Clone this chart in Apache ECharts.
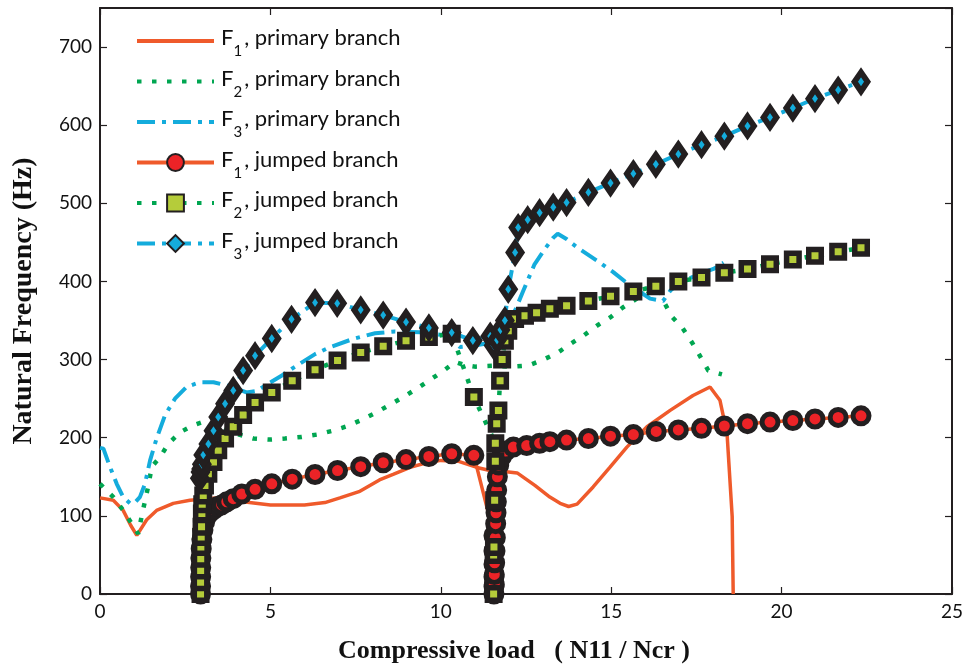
<!DOCTYPE html>
<html>
<head>
<meta charset="utf-8">
<script src="https://cdn.jsdelivr.net/npm/echarts@6/dist/echarts.min.js"></script>
<style>
  html, body { margin: 0; padding: 0; background: #fff; }
  #chart { width: 968px; height: 670px; }
</style>
</head>
<body>
<div id="chart"></div>
<script>
// series names (legend order)
var seriesNames = [
  "F1, primary branch", "F2, primary branch", "F3, primary branch",
  "F1, jumped branch", "F2, jumped branch", "F3, jumped branch"
];

// [load, frequency] pairs
var f1Primary = [[0,123],[0.39,120],[0.68,107],[0.9,88],[1.08,75],[1.37,95],[1.66,107],[2.15,116],[2.64,120],
  [3.42,123],[4.2,118],[5,114],[6,114],[6.6,117],[7.04,123],[7.6,131],[8.2,146],[8.6,153],[9.1,162],[9.5,167],
  [10,171],[10.5,170],[11.06,162],[11.44,158],[11.8,157],[12.24,155],[12.76,139],[13.2,124],[13.5,116],[13.75,112],
  [14.0,115],[14.47,137],[14.96,162],[15.46,188],[16.05,214],[16.73,235],[17.4,254],[17.9,265],[18.19,248],
  [18.4,205],[18.55,99],[18.58,0]];
var f2Primary = [[0,141],[0.39,124],[0.68,107],[0.93,90],[1.12,77],[1.22,99],[1.42,139],[1.52,163],[1.76,175],
  [2.0,192],[2.35,207],[2.74,216],[3.13,222],[3.6,214],[4.0,205],[4.5,199],[4.99,197.6],[5.43,199],[5.92,201],
  [6.36,204],[6.8,208.6],[7.24,214.6],[7.63,222],[8.07,231.6],[8.46,241],[8.9,252],[9.29,262.7],[9.68,274],
  [10.06,285],[10.42,297],[10.7,293],[11.0,291],[11.5,292],[12.08,291],[12.57,292.5],[12.96,299],[13.4,308],
  [13.8,320],[14.2,331],[14.6,344],[14.97,354],[15.35,367],[15.75,378],[16.14,386],[16.43,390],[16.58,371],
  [16.8,354],[17.1,340],[17.37,322],[17.6,305],[17.85,286],[18.25,281]];
var f3Primary = [[0,187],[0.1,186],[0.29,163],[0.49,141],[0.68,124],[0.88,116],[1.0,116],[1.17,124],[1.32,141],
  [1.47,171],[1.66,199],[1.91,229],[2.2,250],[2.54,265],[2.93,271],[3.33,271],[3.8,266],[4.3,258],[4.6,260],
  [5.08,273],[5.35,280],[5.62,288],[6.31,307],[6.75,316],[7.43,326.5],[8.07,333.7],[8.66,336],[9.39,335],
  [10.17,331],[10.56,316],[11.0,318],[11.5,322],[11.9,340],[12.2,365],[12.42,388],[12.75,422],[13.06,442],
  [13.3,456],[13.43,461],[13.7,454],[13.99,444],[14.57,427],[15.06,412],[15.46,398],[16.14,378],[16.52,375],
  [16.73,388],[17.0,398],[17.5,408],[18.0,416],[18.3,424]];

var f1Jumped = [[2.95,0],[2.951,10],[2.953,22],[2.956,34],[2.96,46],[2.97,58],[2.99,70],[3.02,82],[3.07,92],
  [3.14,100],[3.23,105],[3.33,108],[3.45,112],[3.57,114],[3.72,118],[3.91,122],[4.16,128],[4.55,134],[5.04,141],
  [5.64,147],[6.31,153],[6.97,158],[7.65,163],[8.31,168],[8.98,172],[9.65,176],[10.32,179.5],[10.97,177.5],
  [11.56,75],[11.56,55],[11.56,38],[11.56,22],[11.56,10],[11.56,0],[11.57,12],[11.57,25],[11.58,40],[11.59,55],
  [11.6,72],[11.61,90],[11.62,104],[11.63,118],[11.64,133],[11.66,150],
  [11.7,165],[11.78,176],[11.9,183],[12.13,188],[12.52,190],[12.9,193],[13.2,195],[13.69,197],[14.33,199],
  [14.98,202],[15.65,204],[16.32,208],[16.97,210],[17.65,212],[18.32,215],[19.0,218],[19.66,220],[20.33,222],
  [20.98,224],[21.66,226],[22.33,228]];
var f2Jumped = [[2.95,0],[2.951,15],[2.953,30],[2.956,45],[2.96,60],[2.97,73],[2.98,86],[2.99,103],[3.0,115],
  [3.03,126],[3.08,139],[3.18,154],[3.33,169],[3.47,184],[3.67,199],[3.91,214],[4.2,229],[4.55,245],[5.04,258],
  [5.64,273],[6.31,287],[6.97,299],[7.65,309],[8.31,317],[8.98,324],[9.65,329],[10.32,333],[10.97,252],
  [11.6,193],[11.57,120],[11.55,50],[11.55,0],[11.56,60],[11.58,120],[11.6,170],[11.64,218],[11.69,235],[11.74,273],
  [11.8,300],[11.88,324],[11.98,337],[12.18,352],[12.47,356],[12.81,360],[13.2,365],[13.69,369],[14.33,375],
  [14.98,381],[15.65,387],[16.31,394],[16.97,400],[17.65,405],[18.32,411],[19.0,416],[19.66,422],[20.33,428],
  [20.98,433],[21.66,438],[22.33,443]];
var f3Jumped = [[2.93,148],[2.95,156],[2.97,160],[2.99,166],[3.03,178],[3.18,192],[3.33,209],[3.47,226.5],
  [3.67,243.5],[3.91,260.5],[4.2,286],[4.55,305],[5.04,327],[5.62,351.6],[6.31,373],[6.96,372],[7.65,363.6],
  [8.31,357],[8.98,348],[9.65,340.6],[10.32,334.6],[10.94,324.4],[11.45,330],[11.55,318],[11.65,325],[11.75,338],
  [11.88,350],[11.98,390],[12.18,437],[12.27,469],[12.55,479],[12.9,488],[13.3,495],[13.69,501],[14.33,514],
  [14.98,526],[15.65,538],[16.31,550],[16.97,563],[17.65,575],[18.32,586],[19.0,599],[19.66,610],[20.33,622],
  [20.98,634],[21.66,645],[22.33,655.6]];

var xTicks = { min: 0, max: 25, interval: 5 };
var yTicks = { min: 0, max: 750, interval: 100 };

var ORANGE = "#ef5a2b", GREEN = "#00a651", CYAN = "#14acdc", INK = "#231f20";
var DOTS = [4.5, 10.5], DASHDOT = [18, 7, 4, 7];

function primary(name, data, color, dash, width) {
  return {
    name: name, type: "line", data: data, symbol: "none",
    itemStyle: { color: "rgba(0,0,0,0)" },
    lineStyle: { color: color, width: width, type: dash, cap: "butt" },
    emphasis: { disabled: true }
  };
}
function jumped(name, data, color, dash, width, symbol, size, fill, border) {
  return {
    name: name, type: "line", data: data, symbol: symbol, symbolSize: size,
    lineStyle: { color: color, width: width, type: dash, cap: "butt" },
    itemStyle: { color: fill, borderColor: INK, borderWidth: border },
    emphasis: { disabled: true }
  };
}

function boxAxis(extra) {
  return Object.assign({
    type: "value",
    axisLine: { onZero: false, lineStyle: { color: INK, width: 2 } },
    axisTick: { inside: true, length: 7, lineStyle: { color: INK, width: 1.2 } },
    splitLine: { show: false }
  }, extra);
}

var chart = echarts.init(document.getElementById("chart"));
var axisText = { fontFamily: "Lato", fontSize: 19, color: "#111" };
var nameText = { fontFamily: "Liberation Serif", fontWeight: "bold", fontSize: 26, color: "#111" };
var option = {
  animation: false,
  grid: { left: 100, right: 16, top: 8, bottom: 76 },
  legend: {
    orient: "vertical", left: 135, top: 27, padding: 0,
    itemWidth: 77, itemHeight: 21, itemGap: 8.5,
    data: seriesNames,
    lineStyle: { width: 4 },
    formatter: function (n) {
      return "{a|F}{s|" + n.charAt(1) + "}{a|" + n.slice(2) + "}";
    },
    textStyle: {
      rich: {
        a: { fontFamily: "Lato", fontSize: 22, color: "#111", padding: [0, 0, 6, 2] },
        s: { fontFamily: "Lato", fontSize: 15, color: "#111", padding: [21, 0, 0, 0] }
      }
    }
  },
  xAxis: [
    boxAxis({
      min: xTicks.min, max: xTicks.max, interval: xTicks.interval,
      name: "Compressive load   ( N11 / Ncr )", nameLocation: "middle", nameGap: 44,
      nameTextStyle: Object.assign({ padding: [0, 24, 0, 0] }, nameText),
      axisLabel: Object.assign({ margin: 8 }, axisText)
    }),
    boxAxis({
      position: "top", min: xTicks.min, max: xTicks.max, interval: xTicks.interval,
      axisLabel: { show: false }
    })
  ],
  yAxis: [
    boxAxis({
      min: yTicks.min, max: yTicks.max, interval: yTicks.interval,
      name: "Natural Frequency (Hz)", nameLocation: "middle", nameGap: 62,
      nameTextStyle: Object.assign({}, nameText, { fontSize: 28 }),
      axisLabel: Object.assign({ margin: 8, showMaxLabel: false }, axisText)
    }),
    boxAxis({
      position: "right", min: yTicks.min, max: yTicks.max, interval: yTicks.interval,
      axisLabel: { show: false }
    })
  ],
  series: [
    primary(seriesNames[0], f1Primary, ORANGE, "solid", 3.5),
    primary(seriesNames[1], f2Primary, GREEN, DOTS, 4.5),
    primary(seriesNames[2], f3Primary, CYAN, DASHDOT, 4),
    jumped(seriesNames[3], f1Jumped, ORANGE, "solid", 3.5, "circle", 16, "#ec2327", 5),
    jumped(seriesNames[4], f2Jumped, GREEN, DOTS, 4.5, "rect", 12.5, "#b5cc3a", 5.5),
    jumped(seriesNames[5], f3Jumped, CYAN, DASHDOT, 4, "diamond", [13, 19], CYAN, 6)
  ]
};
chart.setOption(option);
</script>
</body>
</html>
